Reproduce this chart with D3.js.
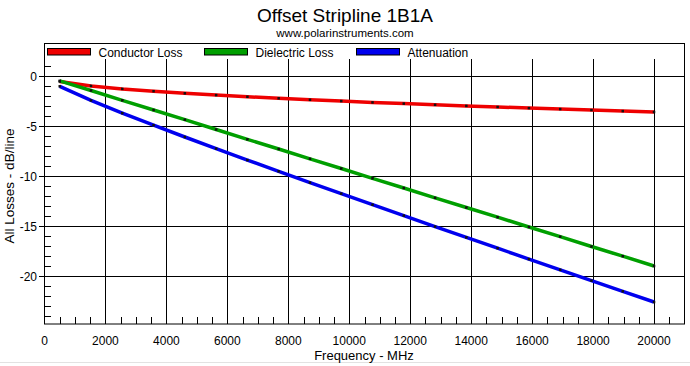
<!DOCTYPE html>
<html>
<head>
<meta charset="utf-8">
<script src="https://cdn.jsdelivr.net/npm/d3@7"></script>
<style>
body{margin:0;background:#fff;}
svg{display:block;font-family:"Liberation Sans",Arial,sans-serif;}
</style>
</head>
<body>
<div id="chart"></div>
<script>
// sample frequencies (MHz), 20 points from 500 to 20000
var frecuencias = [500,1526,2553,3579,4605,5632,6658,7684,8711,9737,10763,11789,12816,13842,14868,15895,16921,17947,18974,20000];
var conductor = [-0.55,-0.99,-1.29,-1.52,-1.73,-1.91,-2.08,-2.23,-2.38,-2.51,-2.64,-2.76,-2.88,-2.99,-3.10,-3.21,-3.31,-3.41,-3.51,-3.60];
var dielectrico = [-0.48,-1.45,-2.43,-3.40,-4.37,-5.35,-6.33,-7.30,-8.28,-9.25,-10.23,-11.20,-12.18,-13.15,-14.12,-15.10,-16.07,-17.05,-18.02,-19.00];
var atenuacion = [-1.03,-2.44,-3.72,-4.92,-6.10,-7.26,-8.41,-9.53,-10.66,-11.76,-12.87,-13.96,-15.06,-16.14,-17.22,-18.31,-19.38,-20.46,-21.53,-22.60];
var nombres = ["Conductor Loss","Dielectric Loss","Attenuation"];
var colores = ["#ee0000","#009f00","#0000ee"];
var xTicks = [0,2000,4000,6000,8000,10000,12000,14000,16000,18000,20000];
var yTicks = [0,-5,-10,-15,-20];

var W = 690, H = 366;
var svg = d3.select("#chart").append("svg").attr("width",W).attr("height",H);

var x = d3.scaleLinear().domain([0,21000]).range([44.5,684.5]);
var y = d3.scaleLinear().domain([1.7,-24.8]).range([59,324]);

svg.append("text").attr("x",345).attr("y",22).attr("text-anchor","middle")
	.attr("font-size",19).text("Offset Stripline 1B1A");
svg.append("text").attr("x",345).attr("y",37).attr("text-anchor","middle")
	.attr("font-size",11.5).text("www.polarinstruments.com");

// bottom separator
svg.append("line").attr("x1",0).attr("x2",W).attr("y1",362.5).attr("y2",362.5)
	.attr("stroke","#e2e2e2");

// frame
svg.append("rect").attr("x",44.5).attr("y",43.5).attr("width",640).attr("height",280.5)
	.attr("fill","none").attr("stroke","#000");

// grid
var g = svg.append("g");
g.selectAll(".gx").data(xTicks.slice(1)).enter().append("line")
	.attr("x1",function(d){return Math.round(x(d))+0.5;})
	.attr("x2",function(d){return Math.round(x(d))+0.5;})
	.attr("y1",y(1.7)).attr("y2",324).attr("stroke","#000");
g.selectAll(".gy").data(yTicks).enter().append("line")
	.attr("x1",39).attr("x2",684.5)
	.attr("y1",function(d){return Math.round(y(d))+0.5;})
	.attr("y2",function(d){return Math.round(y(d))+0.5;})
	.attr("stroke","#000");

// minor ticks
var menoresX = d3.range(500,21000,500).filter(function(d){return d%2000!=0;});
g.selectAll(".mx").data(menoresX).enter().append("line")
	.attr("x1",function(d){return Math.round(x(d))+0.5;})
	.attr("x2",function(d){return Math.round(x(d))+0.5;})
	.attr("y1",317).attr("y2",324).attr("stroke","#000");
var menoresY = d3.range(1,-25,-1).filter(function(d){return d%5!=0;});
g.selectAll(".my").data(menoresY).enter().append("line")
	.attr("x1",44.5).attr("x2",51)
	.attr("y1",function(d){return Math.round(y(d))+0.5;})
	.attr("y2",function(d){return Math.round(y(d))+0.5;})
	.attr("stroke","#000");

// tick labels
g.selectAll(".lx").data(xTicks).enter().append("text")
	.attr("x",function(d){return x(d);}).attr("y",345).attr("text-anchor","middle")
	.attr("font-size",12).text(function(d){return d;});
g.selectAll(".ly").data(yTicks).enter().append("text")
	.attr("x",37).attr("y",function(d){return y(d)+4.5;}).attr("text-anchor","end")
	.attr("font-size",12).text(function(d){return d;});

svg.append("text").attr("x",364).attr("y",360).attr("text-anchor","middle")
	.attr("font-size",13).text("Frequency - MHz");
svg.append("text").attr("transform","translate(14,186) rotate(-90)").attr("text-anchor","middle")
	.attr("font-size",13.5).text("All Losses - dB/line");

// series
var series = [conductor,dielectrico,atenuacion];
var linea = d3.line().x(function(d,i){return x(frecuencias[i]);}).y(function(d){return y(d);});
series.forEach(function(s,k){
	svg.append("path").attr("d",linea(s)).attr("fill","none")
		.attr("stroke",colores[k]).attr("stroke-width",3.5);
});
series.forEach(function(s){
	svg.selectAll(null).data(s).enter().append("rect")
		.attr("x",function(d,i){return x(frecuencias[i])-1.25;})
		.attr("y",function(d){return y(d)-1.25;})
		.attr("width",2.5).attr("height",2.5).attr("fill","#111");
});

// legend
var legX = [47.5,204.5,356.5];
nombres.forEach(function(n,k){
	svg.append("rect").attr("x",legX[k]).attr("y",48.5).attr("width",43).attr("height",6.5)
		.attr("fill",colores[k]).attr("stroke","#000");
	svg.append("text").attr("x",legX[k]+51).attr("y",56.5).attr("font-size",12).text(n);
});
</script>
</body>
</html>
